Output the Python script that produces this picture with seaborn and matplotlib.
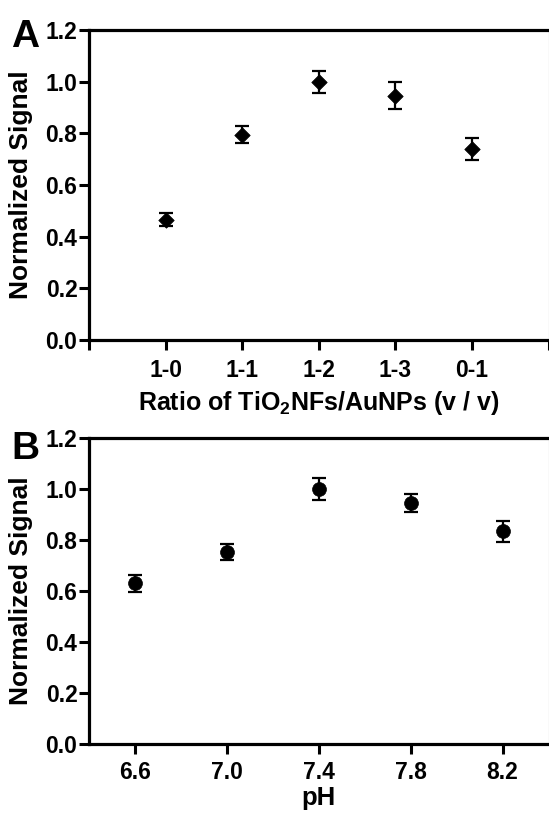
import numpy as np
import pandas as pd
import matplotlib
matplotlib.use("Agg")
import matplotlib.pyplot as plt
from matplotlib.ticker import FormatStrFormatter
import seaborn as sns

# panel A: signal vs TiO2NFs/AuNPs ratio
ratio_labels = ["1-0", "1-1", "1-2", "1-3", "0-1"]
ratio_signal = [0.465, 0.795, 1.000, 0.945, 0.740]
ratio_err = [0.025, 0.033, 0.043, 0.052, 0.042]

# panel B: signal vs pH
ph_values = [6.6, 7.0, 7.4, 7.8, 8.2]
ph_signal = [0.631, 0.752, 1.000, 0.945, 0.834]
ph_err = [0.033, 0.031, 0.042, 0.037, 0.042]

y_ticks = [0.0, 0.2, 0.4, 0.6, 0.8, 1.0, 1.2]

sns.set_style("ticks")
plt.rcParams["font.family"] = ["Liberation Sans", "DejaVu Sans"]
plt.rcParams["font.weight"] = "bold"
plt.rcParams["axes.labelweight"] = "bold"
plt.rcParams["mathtext.fontset"] = "custom"
plt.rcParams["mathtext.rm"] = "Liberation Sans:bold"
plt.rcParams["mathtext.default"] = "rm"
for key in ["text.color", "axes.labelcolor", "xtick.color", "ytick.color", "axes.edgecolor"]:
    plt.rcParams[key] = "black"

W, H = 549, 818


def style_axes(ax):
    '''GraphPad-like frame: thick left/bottom/top, thin grey right.'''
    for side in ["left", "bottom", "top"]:
        ax.spines[side].set_linewidth(2.3)
        ax.spines[side].set_color("black")
    ax.spines["right"].set_linewidth(0.8)
    ax.spines["right"].set_color("#9a9a9a")
    ax.set_ylim(0, 1.2)
    ax.set_yticks(y_ticks)
    ax.yaxis.set_major_formatter(FormatStrFormatter("%.1f"))
    ax.tick_params(axis="y", length=7.5, width=2.2, pad=0.8, labelsize=16.5)
    ax.tick_params(axis="x", length=7.5, width=2.2, pad=6, labelsize=16.5)
    ax.tick_params(top=False, right=False)
    ax.set_ylabel("Normalized Signal", fontsize=19, fontweight="bold", labelpad=9)


def draw_points(ax, df, x, marker, size):
    ax.errorbar(df[x], df["signal"], yerr=df["err"], fmt="none", ecolor="black",
                elinewidth=1.6, capsize=4.8, capthick=1.6, zorder=2)
    sns.scatterplot(data=df, x=x, y="signal", marker=marker, s=size, color="black",
                    edgecolor="black", linewidth=0.5, ax=ax, zorder=3, legend=False)


fig = plt.figure(figsize=(W / 100, H / 100), dpi=100)
left = 89 / W
width = (548.5 - 89) / W
ax_a = fig.add_axes([left, 1 - 340 / H, width, (340 - 30) / H])
ax_b = fig.add_axes([left, 1 - 744 / H, width, (744 - 438) / H])

# panel A
df_a = pd.DataFrame({"pos": np.arange(1, len(ratio_labels) + 1),
                     "signal": ratio_signal, "err": ratio_err})
draw_points(ax_a, df_a, "pos", "D", 62)
style_axes(ax_a)
ax_a.set_xlim(0, len(ratio_labels) + 1)
ax_a.set_xticks(np.arange(0, len(ratio_labels) + 2))
ax_a.set_xticklabels([""] + ratio_labels + [""])
ax_a.set_xlabel("Ratio of TiO$_2$NFs/AuNPs (v / v)", fontsize=18, fontweight="bold", labelpad=5)

# panel B
df_b = pd.DataFrame({"ph": ph_values, "signal": ph_signal, "err": ph_err})
draw_points(ax_b, df_b, "ph", "o", 100)
style_axes(ax_b)
ax_b.tick_params(axis="x", pad=4.5)
ax_b.set_xlim(6.4, 8.4)
ax_b.set_xticks(ph_values)
ax_b.xaxis.set_major_formatter(FormatStrFormatter("%.1f"))
ax_b.set_xlabel("pH", fontsize=18.5, fontweight="bold", labelpad=2)

fig.text(11 / W, 1 - 47 / H, "A", fontsize=28, fontweight="bold", ha="left", va="baseline")
fig.text(11 / W, 1 - 459 / H, "B", fontsize=28, fontweight="bold", ha="left", va="baseline")

fig.savefig("out.png", dpi=100)
